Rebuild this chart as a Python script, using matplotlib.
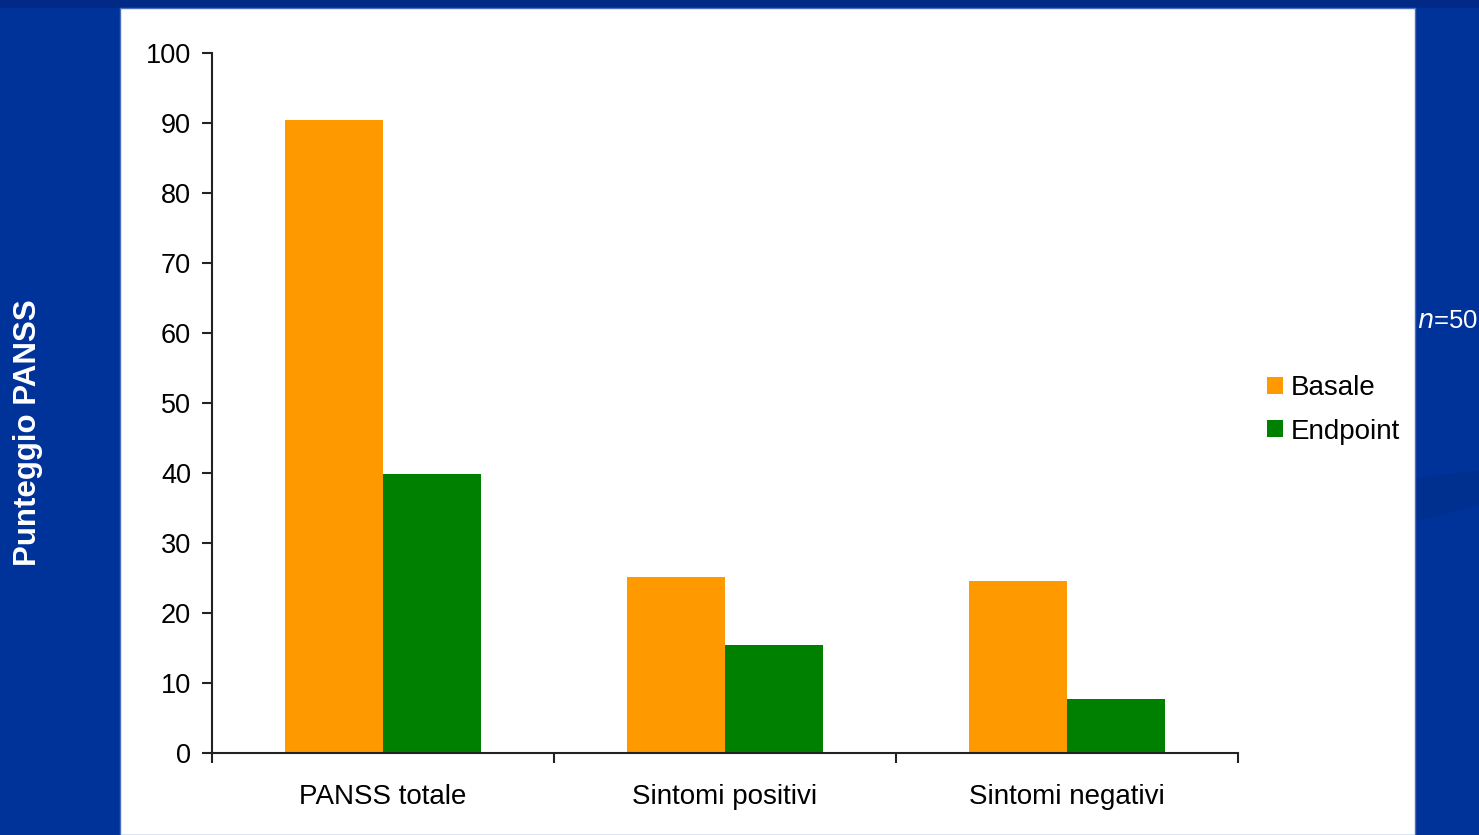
import matplotlib
matplotlib.use("Agg")
import matplotlib.pyplot as plt
from matplotlib.patches import Rectangle, Polygon
import numpy as np

plt.rcParams['font.family'] = ['Liberation Sans', 'DejaVu Sans']

categories = ["PANSS totale", "Sintomi positivi", "Sintomi negativi"]
basale = [90.4, 25.1, 24.6]
endpoint = [39.9, 15.4, 7.7]
series_names = ["Basale", "Endpoint"]
yticks = [0, 10, 20, 30, 40, 50, 60, 70, 80, 90, 100]

W, H = 1479, 835
fig = plt.figure(figsize=(W / 100, H / 100), dpi=100)
fig.patch.set_facecolor("#003399")

# slide decoration: darker top strip, faint swoosh on the right, white panel
fig.patches.append(Rectangle((0, 1 - 8 / H), 1, 8 / H, transform=fig.transFigure,
                             facecolor="#002a85", edgecolor="none", zorder=-3))
fig.patches.append(Polygon([(1415 / W, 1 - 478 / H), (1, 1 - 470 / H),
                            (1, 1 - 505 / H), (1415 / W, 1 - 522 / H)],
                           closed=True, transform=fig.transFigure,
                           facecolor="#00308f", edgecolor="none", zorder=-3))
fig.patches.append(Rectangle((120 / W, 0), (1415 - 120) / W, 1 - 8 / H,
                             transform=fig.transFigure, facecolor="white",
                             edgecolor="#4a6fc0", linewidth=1, zorder=-2))

ax = fig.add_axes([212 / W, 1 - 753 / H, (1238 - 212) / W, (753 - 53) / H])
ax.set_facecolor("none")
ax.set_zorder(1)

x = np.arange(len(categories)) + 0.5
bw = 0.286
ax.bar(x - bw / 2, basale, width=bw, color="#ff9900", label=series_names[0], zorder=2)
ax.bar(x + bw / 2, endpoint, width=bw, color="#008000", label=series_names[1], zorder=2)

ax.set_xlim(0, len(categories))
ax.set_ylim(0, 100)
ax.set_yticks(yticks)
ax.set_yticklabels([str(v) for v in yticks], fontsize=19.5)
ax.set_xticks(np.arange(len(categories) + 1))
ax.set_xticklabels([])
ax.set_xticks(x, minor=True)
ax.set_xticklabels(categories, minor=True, fontsize=20)
ax.tick_params(axis="x", which="minor", length=0, pad=22)
ax.tick_params(axis="x", which="major", length=7, width=1.5, direction="out", color="#222222")
ax.tick_params(axis="y", length=7, width=1.5, direction="out", color="#222222", pad=8)

for s in ["top", "right"]:
    ax.spines[s].set_visible(False)
for s in ["left", "bottom"]:
    ax.spines[s].set_linewidth(1.5)
    ax.spines[s].set_color("#222222")

leg = ax.legend(loc="center left", bbox_to_anchor=(1267 / W, 1 - 410 / H),
                bbox_transform=fig.transFigure, frameon=False, fontsize=20,
                handlelength=0.57, handleheight=0.57, handletextpad=0.3,
                labelspacing=0.62, borderaxespad=0, borderpad=0)

fig.text(28 / W, 1 - 433 / H, "Punteggio PANSS", rotation=90, color="white",
         fontsize=22.5, fontweight="bold", ha="center", va="center")
fig.text(1417 / W, 1 - 321 / H, r"$\it{n}$=50", color="white", fontsize=18.5,
         ha="left", va="center")

fig.savefig("out.png", dpi=100, facecolor=fig.get_facecolor())
